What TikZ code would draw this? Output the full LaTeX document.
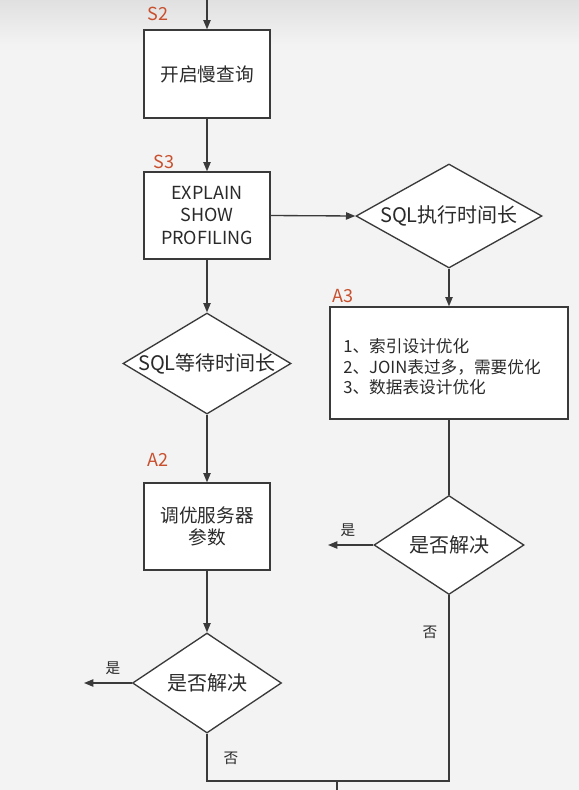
\documentclass[tikz,border=0pt]{standalone}
\usepackage{fontspec}
\setmainfont{Noto Sans CJK SC}
\usetikzlibrary{shapes.geometric,arrows.meta}
\definecolor{bgpage}{HTML}{F3F3F3}
\definecolor{ink}{HTML}{2A2A2A}
\definecolor{stroke}{HTML}{3A3A3A}
\definecolor{tag}{HTML}{C8502E}
% zero-width text so a diamond takes exactly its minimum size
\newcommand{\zerowd}[1]{\makebox[0pt]{#1}}
\tikzset{
  stepbox/.style={draw=stroke, fill=white, line width=1pt, align=center,
    text=ink, inner sep=0pt, font=\fontsize{14}{17}\selectfont},
  choice/.style={diamond, draw=stroke, fill=white, line width=1pt, inner sep=0pt,
    text=ink, font=\fontsize{15}{17}\selectfont},
  steptag/.style={text=tag, font=\fontsize{13.5}{16}\selectfont, inner sep=0pt},
  branch/.style={text=ink, font=\fontsize{11}{13}\selectfont, inner sep=0pt},
  flow/.style={draw=stroke, line width=1pt, -{Triangle[length=7pt,width=5.5pt]}},
  wire/.style={draw=stroke, line width=1pt},
}
\begin{document}
\begin{tikzpicture}[x=0.75pt,y=-0.75pt]
  % page background with a soft darker band at the top
  \fill[bgpage] (0,0) rectangle (579,790);
  \shade[top color=black!12, bottom color=bgpage] (0,0) rectangle (579,45);
  \useasboundingbox (0,0) rectangle (579,790);

  % left column
  \coordinate (entry) at (207,0);
  \node[stepbox, minimum width=94.5pt, minimum height=66pt] (slow) at (207,74) {开启慢查询};
  \node[stepbox, minimum width=94.5pt, minimum height=65.25pt,
        font=\fontsize{13.5}{16.8}\selectfont] (explain) at (207,215.5) {EXPLAIN\\SHOW\\PROFILING};
  \node[choice, minimum width=126pt, minimum height=75.75pt] (wait) at (207,363.5) {\zerowd{SQL等待时间长}};
  \node[stepbox, minimum width=94.5pt, minimum height=65.25pt] (tune) at (207,526.5) {调优服务器\\参数};
  \node[choice, minimum width=111.75pt, minimum height=75pt] (solvedL) at (207,683) {\zerowd{是否解决}};

  % right column
  \node[choice, minimum width=139.5pt, minimum height=78pt] (exec) at (449,216) {\zerowd{SQL执行时间长}};
  \node[stepbox, minimum width=178.5pt, minimum height=84pt] (opt) at (449,363) {};
  \node[anchor=west, align=left, text=ink, inner sep=0pt,
        font=\fontsize{12.5}{15.4}\selectfont] (optlist) at (343,367)
        {1、索引设计优化\\2、JOIN表过多，需要优化\\3、数据表设计优化};
  \node[choice, minimum width=112.5pt, minimum height=74.25pt] (solvedR) at (449,545) {\zerowd{是否解决}};

  % step tags
  \node[steptag] (tS2) at (158,14) {S2};
  \node[steptag] (tS3) at (164,162) {S3};
  \node[steptag] (tA3) at (343,296) {A3};
  \node[steptag] (tA2) at (158,460) {A2};

  % loose ends
  \coordinate (yesL) at (84,683);
  \coordinate (yesR) at (328,545);
  \coordinate (joinL) at (207,781);
  \coordinate (joinR) at (449,781);
  \coordinate (joinM) at (337,781);
  \coordinate (exit) at (337,790);

  % connectors
  \draw[flow] (entry) -- (slow.north);
  \draw[flow] (slow.south) -- (explain.north);
  \draw[flow] (explain.east) -- (exec.west);
  \draw[flow] (exec.south) -- (opt.north);
  \draw[wire] (opt.south) -- (solvedR.north);
  \draw[flow] (solvedR.west) -- (yesR);
  \draw[flow] (explain.south) -- (wait.north);
  \draw[flow] (wait.south) -- (tune.north);
  \draw[flow] (tune.south) -- (solvedL.north);
  \draw[flow] (solvedL.west) -- (yesL);
  \draw[wire] (solvedL.south) -- (joinL) -- (joinR) -- (solvedR.south);
  \draw[wire] (joinM) -- (exit);

  % branch labels
  \node[branch] (yR) at (348,530) {是};
  \node[branch] (nR) at (430,632) {否};
  \node[branch] (yL) at (113,668) {是};
  \node[branch] (nL) at (231,758) {否};
\end{tikzpicture}
\end{document}
